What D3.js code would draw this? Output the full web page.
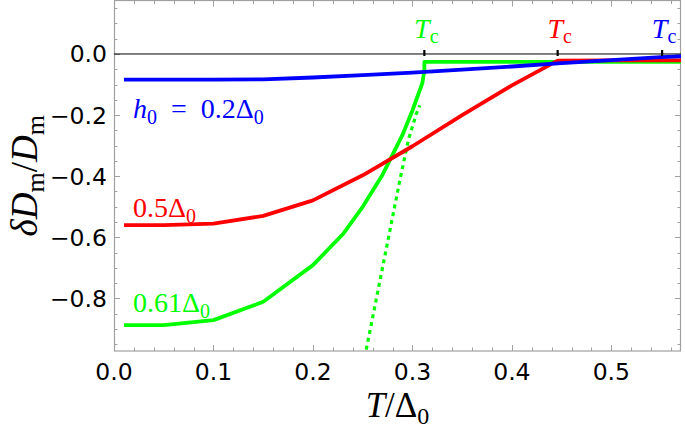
<!DOCTYPE html>
<html>
<head>
<meta charset="utf-8">
<script src="https://cdn.jsdelivr.net/npm/d3@7"></script>
<style>
  body { margin: 0; background: #fff; }
  svg { display: block; }
  .tick-label { font-family: "DejaVu Sans", sans-serif; font-size: 23.5px; fill: #000; }
  .math { font-family: "Liberation Serif", "Times New Roman", serif; }
</style>
</head>
<body>
<div id="chart"></div>
<script>
// ---- data ----
// h0 = 0.2 Delta0 (blue)
const blueT = [0.01, 0.05, 0.1, 0.15, 0.2, 0.25, 0.3, 0.35, 0.4, 0.45, 0.5, 0.55, 0.57];
const blueV = [-0.084, -0.084, -0.084, -0.083, -0.077, -0.069, -0.061, -0.051, -0.041, -0.030, -0.020, -0.010, -0.008];

// 0.5 Delta0 (red)
const redT = [0.01, 0.05, 0.1, 0.15, 0.2, 0.25, 0.3, 0.35, 0.4, 0.446, 0.5, 0.57];
const redV = [-0.560, -0.560, -0.555, -0.530, -0.479, -0.397, -0.302, -0.200, -0.103, -0.022, -0.021, -0.021];

// 0.61 Delta0 (green, solid)
const greenT = [0.01, 0.05, 0.1, 0.15, 0.2, 0.23, 0.25, 0.27, 0.29, 0.30, 0.31, 0.312, 0.312, 0.57];
const greenV = [-0.887, -0.887, -0.871, -0.811, -0.691, -0.590, -0.500, -0.395, -0.265, -0.185, -0.095, -0.055, -0.026, -0.026];

// 0.61 Delta0 (green, dotted branch)
const dotT = [0.252, 0.2774, 0.2874, 0.2958, 0.304, 0.3075];
const dotV = [-0.993, -0.577, -0.413, -0.283, -0.195, -0.168];

// critical temperatures
const tcValues = [0.312, 0.446, 0.551];
const tcColors = ["#00ff00", "#ff0000", "#0000ff"];

// axis ticks
const xMajor = [0, 0.1, 0.2, 0.3, 0.4, 0.5];
const yMajor = [0, -0.2, -0.4, -0.6, -0.8];

const W = 685, H = 428;
const plot = { left: 114, right: 681, top: 0.5, bottom: 351 };

const x = d3.scaleLinear().domain([0, 0.57]).range([plot.left, plot.right]);
const y = d3.scaleLinear().domain([-0.972, 0.175]).range([plot.bottom, plot.top]);

const svg = d3.select("#chart").append("svg")
  .attr("width", W)
  .attr("height", H);

svg.append("defs").append("clipPath").attr("id", "clip")
  .append("rect")
  .attr("x", plot.left).attr("y", plot.top)
  .attr("width", plot.right - plot.left)
  .attr("height", plot.bottom - plot.top);

const frameColor = "#a0a0a0";

// minor / major ticks on all four sides
const xMinor = d3.range(0, 0.571, 0.02);
const yMinor = d3.range(-0.95, 0.176, 0.05);

function isMajor(v, step) {
  return Math.abs(v / step - Math.round(v / step)) < 1e-6;
}

const ticks = svg.append("g").attr("stroke", frameColor).attr("stroke-width", 1);
xMinor.forEach(v => {
  const len = isMajor(v, 0.1) ? 6 : 3.5;
  const px = Math.round(x(v)) + 0.5;
  ticks.append("line").attr("x1", px).attr("x2", px)
    .attr("y1", plot.bottom).attr("y2", plot.bottom - len);
  ticks.append("line").attr("x1", px).attr("x2", px)
    .attr("y1", plot.top).attr("y2", plot.top + len);
});
yMinor.forEach(v => {
  const len = isMajor(v, 0.2) ? 6 : 3.5;
  const py = Math.round(y(v)) + 0.5;
  ticks.append("line").attr("y1", py).attr("y2", py)
    .attr("x1", plot.left).attr("x2", plot.left + len);
  ticks.append("line").attr("y1", py).attr("y2", py)
    .attr("x1", plot.right).attr("x2", plot.right - len);
});

// frame
svg.append("rect")
  .attr("x", plot.left + 0.5).attr("y", plot.top)
  .attr("width", plot.right - plot.left - 1)
  .attr("height", plot.bottom - plot.top)
  .attr("fill", "none")
  .attr("stroke", frameColor)
  .attr("stroke-width", 1.2);

// tick labels
svg.append("g").selectAll("text")
  .data(xMajor).enter().append("text")
  .attr("class", "tick-label")
  .attr("x", d => x(d))
  .attr("y", 380)
  .attr("text-anchor", "middle")
  .text(d => d.toFixed(1));

svg.append("g").selectAll("text")
  .data(yMajor).enter().append("text")
  .attr("class", "tick-label")
  .attr("x", 107)
  .attr("y", d => y(d) + 8.5)
  .attr("text-anchor", "end")
  .text(d => (d < 0 ? "\u2212" : "") + Math.abs(d).toFixed(1));

// zero line
svg.append("line")
  .attr("x1", plot.left).attr("x2", plot.right)
  .attr("y1", y(0)).attr("y2", y(0))
  .attr("stroke", "#000").attr("stroke-width", 1);

// curves
const line = d3.line().x(d => x(d[0])).y(d => y(d[1]));
const zipped = (a, b) => a.map((t, i) => [t, b[i]]);

const curves = svg.append("g").attr("clip-path", "url(#clip)")
  .attr("fill", "none").attr("stroke-linejoin", "round");

curves.append("path")
  .attr("d", line(zipped(dotT, dotV)))
  .attr("stroke", "#00ff00").attr("stroke-width", 3.2)
  .attr("stroke-dasharray", "4,4");

curves.append("path")
  .attr("d", line(zipped(greenT, greenV)))
  .attr("stroke", "#00ff00").attr("stroke-width", 3.8);

curves.append("path")
  .attr("d", line(zipped(redT, redV)))
  .attr("stroke", "#ff0000").attr("stroke-width", 3.8);

curves.append("path")
  .attr("d", line(zipped(blueT, blueV)))
  .attr("stroke", "#0000ff").attr("stroke-width", 3.8);

// Tc markers
svg.append("g").selectAll("line")
  .data(tcValues).enter().append("line")
  .attr("x1", d => x(d)).attr("x2", d => x(d))
  .attr("y1", y(0) - 4).attr("y2", y(0) + 2)
  .attr("stroke", "#000").attr("stroke-width", 2.2);

const tcLab = svg.append("g").selectAll("text")
  .data(tcValues).enter().append("text")
  .attr("class", "math")
  .attr("x", d => x(d) + 2)
  .attr("y", y(0.052))
  .attr("text-anchor", "middle")
  .attr("fill", (d, i) => tcColors[i])
  .style("font-size", "28px");
tcLab.append("tspan").style("font-style", "italic").text("T");
tcLab.append("tspan").attr("dy", 5).style("font-size", "20px").text("c");

// curve labels
function subLabel(parts, tx, ty, color) {
  const t = svg.append("text")
    .attr("class", "math")
    .attr("x", x(tx)).attr("y", y(ty))
    .attr("fill", color)
    .style("font-size", "28px");
  parts.forEach(p => {
    const s = t.append("tspan").text(p.s);
    if (p.it) s.style("font-style", "italic");
    if (p.sub) s.attr("dy", 6).style("font-size", "20px");
    if (p.up) s.attr("dy", -6);
  });
  return t;
}

subLabel([
  { s: "h", it: true }, { s: "0", sub: true },
  { s: "\u2002=\u20020.2\u0394", up: true }, { s: "0", sub: true }
], 0.019, -0.208, "#0000ff");

subLabel([
  { s: "0.5\u0394" }, { s: "0", sub: true }
], 0.019, -0.534, "#ff0000");

subLabel([
  { s: "0.61\u0394" }, { s: "0", sub: true }
], 0.019, -0.845, "#00ff00");

// axis titles
const xt = svg.append("text").attr("class", "math")
  .attr("x", (plot.left + plot.right) / 2).attr("y", 417)
  .attr("text-anchor", "middle")
  .style("font-size", "35px");
xt.append("tspan").style("font-style", "italic").text("T");
xt.append("tspan").text("/\u0394");
xt.append("tspan").attr("dy", 7).style("font-size", "24px").text("0");

const yt = svg.append("text").attr("class", "math")
  .attr("transform", `translate(37, ${(plot.top + plot.bottom) / 2}) rotate(-90)`)
  .attr("text-anchor", "middle")
  .style("font-size", "37px");
yt.append("tspan").style("font-style", "italic").text("\u03b4D");
yt.append("tspan").attr("dy", 7).style("font-size", "26px").text("m");
yt.append("tspan").attr("dy", -7).text("/");
yt.append("tspan").style("font-style", "italic").text("D");
yt.append("tspan").attr("dy", 7).style("font-size", "26px").text("m");
</script>
</body>
</html>
